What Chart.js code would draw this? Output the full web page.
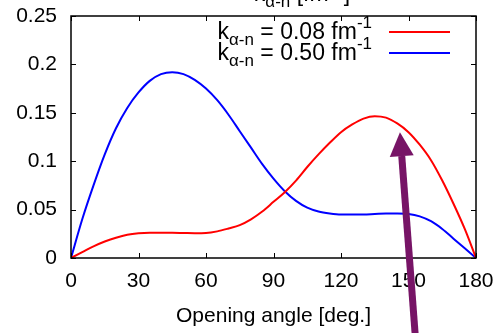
<!DOCTYPE html>
<html>
<head>
<meta charset="utf-8">
<script src="https://cdn.jsdelivr.net/npm/chart.js@4"></script>
<style>
  html, body { margin: 0; padding: 0; background: #fff; }
  canvas { display: block; }
</style>
</head>
<body>
<canvas id="angleChart" width="500" height="333"></canvas>
<script>
const angles = [0, 5, 10, 15, 20, 25, 30, 35, 40, 45, 50, 55, 60, 65, 70, 75, 80, 85, 90,
    95, 100, 105, 110, 115, 120, 125, 130, 135, 140, 145, 150, 155, 160, 165, 170, 175, 180];

// k = 0.08 fm^-1
const redValues = [0, 0.006, 0.012, 0.017, 0.021, 0.024, 0.0255, 0.026, 0.026, 0.026,
    0.0258, 0.0256, 0.0258, 0.0275, 0.0305, 0.034, 0.040, 0.048, 0.058, 0.068,
    0.080, 0.094, 0.107, 0.119, 0.130, 0.138, 0.144, 0.1465, 0.145, 0.139,
    0.130, 0.117, 0.101, 0.080, 0.056, 0.030, 0];

// k = 0.50 fm^-1
const blueValues = [0, 0.040, 0.075, 0.107, 0.134, 0.155, 0.171, 0.183, 0.190, 0.192,
    0.190, 0.184, 0.175, 0.163, 0.148, 0.131, 0.114, 0.097, 0.082, 0.069,
    0.059, 0.052, 0.048, 0.046, 0.045, 0.045, 0.045, 0.0455, 0.046, 0.046,
    0.0455, 0.043, 0.038, 0.030, 0.020, 0.010, 0];

const xTicks = [0, 30, 60, 90, 120, 150, 180];
const yTicks = [0, 0.05, 0.1, 0.15, 0.2, 0.25];

const seriesNames = ["0.08", "0.50"];
const seriesColors = ["#ff0000", "#0000ff"];

// arrow annotation, in data units: tail -> tip
const arrowFrom = { x: 153, y: -0.08 };
const arrowTo = { x: 146.2, y: 0.130 };

const FONT = "'Liberation Sans', Arial, sans-serif";

function toPoints(vals) {
    return angles.map((a, i) => ({ x: a, y: vals[i] }));
}

// draws "k_{α-n} = <v> fm^-1"
function drawK(ctx, x, y, value, align) {
    const parts = [
        { t: "k", size: 23, dy: 0 },
        { t: "α-n", size: 17, dy: 6 },
        { t: value === null ? " [fm" : " = " + value + " fm", size: 23, dy: 0 },
        { t: "-1", size: 17, dy: -11 }
    ];
    if (value === null) parts.push({ t: "]", size: 23, dy: 0 });
    let w = 0;
    parts.forEach(p => { ctx.font = p.size + "px " + FONT; w += ctx.measureText(p.t).width; });
    let cx = align === "right" ? x - w : (align === "center" ? x - w / 2 : x);
    ctx.textAlign = "left";
    ctx.textBaseline = "alphabetic";
    ctx.fillStyle = "#000";
    parts.forEach(p => {
        ctx.font = p.size + "px " + FONT;
        ctx.fillText(p.t, cx, y + p.dy);
        cx += ctx.measureText(p.t).width;
    });
}

const framePlugin = {
    id: "frame",
    afterDatasetsDraw(chart) {
        const ctx = chart.ctx;
        const a = chart.chartArea;
        const xs = chart.scales.x, ys = chart.scales.y;
        ctx.save();
        ctx.strokeStyle = "#000";
        ctx.lineWidth = 1.5;
        ctx.strokeRect(a.left, a.top, a.right - a.left, a.bottom - a.top);
        ctx.lineWidth = 1;
        ctx.beginPath();
        xTicks.forEach(v => {
            const px = Math.round(xs.getPixelForValue(v)) + 0.5;
            ctx.moveTo(px, a.bottom); ctx.lineTo(px, a.bottom - 5);
            ctx.moveTo(px, a.top); ctx.lineTo(px, a.top + 5);
        });
        yTicks.forEach(v => {
            const py = Math.round(ys.getPixelForValue(v)) + 0.5;
            ctx.moveTo(a.left, py); ctx.lineTo(a.left + 5, py);
            ctx.moveTo(a.right, py); ctx.lineTo(a.right - 5, py);
        });
        ctx.stroke();

        // legend
        const rows = [39, 60];
        rows.forEach((y, i) => {
            drawK(ctx, 372, y, seriesNames[i], "right");
            ctx.strokeStyle = seriesColors[i];
            ctx.lineWidth = 2;
            ctx.beginPath();
            ctx.moveTo(389, y - 7);
            ctx.lineTo(450, y - 7);
            ctx.stroke();
        });

        // clipped top label
        drawK(ctx, 302, 1, null, "center");
        ctx.restore();
    },
    afterDraw(chart) {
        const ctx = chart.ctx;
        const xs = chart.scales.x, ys = chart.scales.y;
        const x1 = xs.getPixelForValue(arrowFrom.x), y1 = ys.getPixelForValue(arrowFrom.y);
        const x2 = xs.getPixelForValue(arrowTo.x), y2 = ys.getPixelForValue(arrowTo.y);
        const ang = Math.atan2(y2 - y1, x2 - x1);
        const headLen = 24, headW = 12;
        const bx = x2 - headLen * Math.cos(ang), by = y2 - headLen * Math.sin(ang);
        ctx.save();
        ctx.strokeStyle = "#771466";
        ctx.fillStyle = "#771466";
        ctx.lineWidth = 7;
        ctx.beginPath();
        ctx.moveTo(x1, y1);
        ctx.lineTo(bx, by);
        ctx.stroke();
        ctx.beginPath();
        ctx.moveTo(x2, y2);
        ctx.lineTo(bx + headW * Math.sin(ang), by - headW * Math.cos(ang));
        ctx.lineTo(bx - headW * Math.sin(ang), by + headW * Math.cos(ang));
        ctx.closePath();
        ctx.fill();
        ctx.restore();
    }
};

// invisible tick marks only used to space the labels from the frame
const hiddenGrid = len => ({
    display: true,
    drawOnChartArea: false,
    drawTicks: true,
    tickLength: len,
    color: "rgba(0,0,0,0)"
});

new Chart(document.getElementById("angleChart"), {
    type: "line",
    data: {
        datasets: [
            {
                label: "k = 0.08 fm-1",
                data: toPoints(redValues),
                borderColor: seriesColors[0],
                borderWidth: 2,
                pointRadius: 0,
                cubicInterpolationMode: "monotone",
                fill: false
            },
            {
                label: "k = 0.50 fm-1",
                data: toPoints(blueValues),
                borderColor: seriesColors[1],
                borderWidth: 2,
                pointRadius: 0,
                cubicInterpolationMode: "monotone",
                fill: false
            }
        ]
    },
    options: {
        responsive: false,
        animation: false,
        devicePixelRatio: 1,
        layout: { padding: { left: 0, right: 24, top: 16, bottom: 0 } },
        plugins: {
            legend: { display: false },
            tooltip: { enabled: false }
        },
        scales: {
            x: {
                type: "linear",
                min: 0,
                max: 180,
                afterBuildTicks: s => { s.ticks = xTicks.map(v => ({ value: v })); },
                afterFit: s => { s.height = 75; },
                grid: hiddenGrid(11),
                border: { display: false },
                ticks: {
                    padding: 0,
                    color: "#000",
                    maxRotation: 0,
                    font: { family: FONT, size: 21 }
                },
                title: {
                    display: true,
                    text: "Opening angle [deg.]",
                    color: "#000",
                    font: { family: FONT, size: 21 },
                    padding: { top: 0, bottom: 4 }
                }
            },
            y: {
                min: 0,
                max: 0.25,
                afterBuildTicks: s => { s.ticks = yTicks.map(v => ({ value: v })); },
                afterFit: s => { s.width = 71; },
                grid: hiddenGrid(14),
                border: { display: false },
                ticks: {
                    padding: 0,
                    color: "#000",
                    font: { family: FONT, size: 21 },
                    callback: v => String(Math.round(v * 100) / 100)
                }
            }
        }
    },
    plugins: [framePlugin]
});
</script>
</body>
</html>
